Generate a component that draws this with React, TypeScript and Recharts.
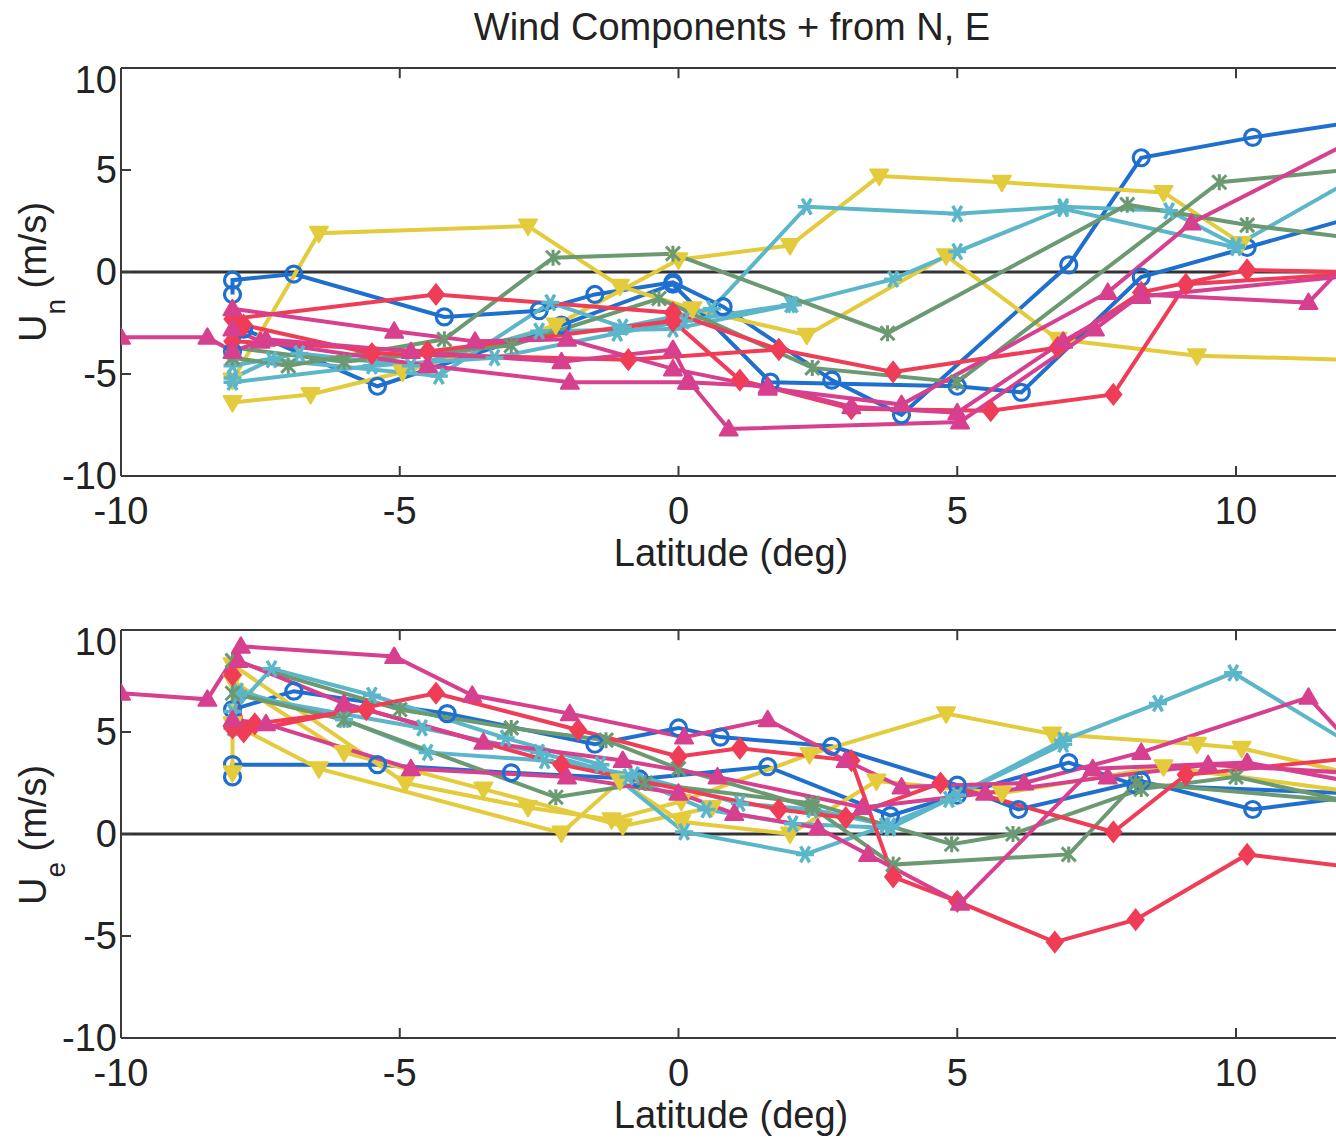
import React from 'react';
import { ComposedChart, Line, XAxis, YAxis, ReferenceLine } from 'recharts';

type Pair = [number, number];

// ---- axis / text content ----
const LAT_TICKS = [-10, -5, 0, 5, 10];
const VAL_TICKS = [-10, -5, 0, 5, 10];
const TITLE = 'Wind Components + from N, E';
const X_LABEL = 'Latitude (deg)';

// ---- Un (northward component) traces: [latitude, m/s] ----
const unBlue1: Pair[] = [[-8, -1.1], [-8, -0.4], [-6.9, -0.1], [-4.2, -2.2], [-2.5, -1.9], [-1.5, -1.1], [-0.1, -0.5], [0.8, -1.7], [2.75, -5.3], [4.0, -7.0], [7.0, 0.35], [8.3, 5.6], [10.3, 6.6], [12, 7.3]];
const unBlue2: Pair[] = [[-8, -3.9], [-7.8, -2.8], [-5.4, -5.6], [-2.1, -2.6], [-0.1, -0.6], [1.65, -5.4], [5.0, -5.6], [6.15, -5.9], [8.3, -0.25], [10.2, 1.2], [12, 2.6]];
const unYellow1: Pair[] = [[-8, -6.4], [-6.6, -6.0], [-4.95, -4.9], [-2.2, -2.6], [0.0, 0.6], [2.0, 1.3], [3.6, 4.7], [5.8, 4.4], [8.7, 3.9], [10.1, 1.4]];
const unYellow2: Pair[] = [[-8, -5.3], [-6.45, 1.9], [-2.7, 2.25], [-1.05, -0.7], [0.25, -1.8], [2.3, -3.1], [4.8, 0.8], [6.8, -3.3], [9.3, -4.1], [12, -4.3]];
const unTeal1: Pair[] = [[-8, -5.2], [-7.3, -4.3], [-4.3, -5.1], [-2.3, -1.5], [-1.0, -2.7], [0.6, -1.8], [2.3, 3.2], [5.0, 2.85], [6.9, 3.2], [8.8, 3.0], [10.0, 1.3], [12, 4.4]];
const unTeal2: Pair[] = [[-8, -4.6], [-6.8, -4.0], [-4.8, -4.6], [-2.5, -2.9], [-0.1, -2.8], [2.05, -1.6], [3.85, -0.35], [5.0, 1.0], [6.9, 3.1], [10.0, 1.2]];
const unTeal3: Pair[] = [[-8, -5.4], [-5.5, -4.6], [-3.3, -4.2], [-1.1, -3.0], [0.1, -2.4], [2.0, -1.6]];
const unGreen1: Pair[] = [[-8, -4.2], [-7, -4.6], [-4.2, -3.3], [-2.25, 0.7], [-0.1, 0.9], [3.75, -3.0], [8.05, 3.3], [10.2, 2.3], [12, 1.7]];
const unGreen2: Pair[] = [[-8, -3.7], [-6, -4.4], [-3, -3.6], [-0.35, -1.3], [2.4, -4.7], [5.0, -5.4], [9.7, 4.4], [12, 5.0]];
const unRed1: Pair[] = [[-8, -2.3], [-4.35, -1.1], [-0.1, -2.0], [1.8, -3.8], [3.85, -4.9], [6.8, -3.7], [8.3, -1.0], [10.2, 0.1], [12, 0.0]];
const unRed2: Pair[] = [[-8, -3.4], [-4.5, -3.9], [-0.1, -2.4], [1.1, -5.3], [3.1, -6.7], [5.6, -6.8], [7.8, -6.0], [9.1, -0.6], [12, -0.1]];
const unRed3: Pair[] = [[-7.8, -2.6], [-5.5, -4.0], [-0.9, -4.3], [1.8, -3.8]];
const unMag1: Pair[] = [[-10, -3.2], [-8.45, -3.2], [-8, -3.9], [-7.4, -3.3], [-4.8, -3.9], [-2.1, -4.4], [-0.1, -3.8], [0.2, -5.4], [0.9, -7.7], [5.05, -7.35], [7.47, -2.8], [8.3, -1.1], [11.3, -1.5], [12, 0.5]];
const unMag2: Pair[] = [[-8, -1.8], [-5.1, -2.9], [-3.65, -3.4], [-2.0, -3.3], [-0.1, -4.75], [1.6, -5.7], [4.0, -6.5], [7.7, -1.0], [9.2, 2.4], [12, 6.3]];
const unMag3: Pair[] = [[-8, -2.8], [-7.5, -3.4], [-4.5, -4.6], [-1.95, -5.4], [0.15, -5.4], [1.6, -5.6], [3.1, -6.6], [5.0, -6.9], [6.9, -3.4], [8.3, -1.2], [12, -0.2]];

// ---- Ue (eastward component) traces: [latitude, m/s] ----
const ueBlue1: Pair[] = [[-8, 2.8], [-8, 3.4], [-5.4, 3.4], [-3, 3.0], [-0.7, 2.7], [1.6, 3.3], [3.8, 0.9], [5, 1.9], [7, 3.5], [8.2, 2.4], [12, 2.0]];
const ueBlue2: Pair[] = [[-8, 6.1], [-6.9, 7.0], [-4.15, 5.9], [-1.5, 4.4], [0, 5.2], [0.75, 4.75], [2.75, 4.3], [5, 2.4], [6.1, 1.2], [8.3, 2.6], [10.3, 1.2], [12, 1.8]];
const ueYellow1: Pair[] = [[-8, 3.0], [-8, 8.3], [-4.9, 2.5], [-2.7, 1.3], [-1.2, 0.7], [0.05, 1.6], [2.35, 3.9], [4.8, 5.9], [6.7, 4.9], [9.3, 4.4], [10.1, 4.2], [12, 3.0]];
const ueYellow2: Pair[] = [[-8, 5.4], [-6.45, 3.2], [-2.1, 0.05], [-1.05, 2.6], [0.05, 0.6], [2.0, 0.0], [3.55, 2.6], [5.8, 2.0], [8.7, 3.3], [12, 2.1]];
const ueYellow3: Pair[] = [[-8, 7.5], [-6.0, 4.0], [-3.5, 2.2], [-1.0, 0.4], [0.6, 1.3]];
const ueTeal1: Pair[] = [[-8, 6.0], [-7.3, 8.1], [-5.5, 6.8], [-3.1, 4.7], [-1.4, 3.4], [0.1, 0.1], [2.27, -1.0], [3.7, 0.4], [4.85, 1.7], [6.9, 4.6], [8.6, 6.4], [9.95, 7.9], [12, 4.5]];
const ueTeal2: Pair[] = [[-8, 5.2], [-7.9, 6.8], [-4.6, 5.2], [-2.5, 4.0], [-0.9, 2.8], [0.5, 1.2], [2.05, 0.5], [3.8, 0.3], [5, 1.9], [6.9, 4.4]];
const ueTeal3: Pair[] = [[-7.9, 7.0], [-6.0, 5.6], [-4.5, 4.0], [-2.4, 3.6], [-0.8, 2.9], [1.1, 1.5], [2.4, 1.2], [3.8, 0.4]];
const ueGreen1: Pair[] = [[-8, 8.5], [-5, 6.1], [-3, 5.2], [-1.3, 4.6], [0, 3.2], [2.4, 1.3], [3.85, -1.5], [7.0, -1.0], [8.2, 2.5], [12, 1.6]];
const ueGreen2: Pair[] = [[-8, 6.9], [-6, 5.6], [-2.2, 1.8], [-0.6, 2.5], [2.4, 1.5], [4.9, -0.5], [6, 0], [8.3, 2.2], [10, 2.8], [12, 1.6]];
const ueRed1: Pair[] = [[-8, 7.8], [-7.8, 5.0], [-4.35, 6.9], [-1.8, 5.1], [0, 3.8], [1.1, 4.2], [3.1, 3.6], [3.85, -2.1], [5.0, -3.3], [6.75, -5.3], [8.2, -4.2], [10.2, -1.0], [12, -1.6]];
const ueRed2: Pair[] = [[-8, 5.2], [-7.6, 5.4], [-5.6, 6.1], [-2.1, 3.4], [1.8, 1.2], [3.0, 0.8], [4.7, 2.5], [7.8, 0.1], [9.1, 2.9], [12, 3.7]];
const ueMag1: Pair[] = [[-10, 6.9], [-8.45, 6.6], [-7.85, 9.2], [-5.1, 8.7], [-3.7, 6.8], [-1.95, 5.9], [0.1, 4.75], [1.6, 5.6], [3.0, 3.6], [4.0, 2.3], [6.2, 2.5], [8.3, 4.0], [11.3, 6.7], [12, 4.6]];
const ueMag2: Pair[] = [[-8, 5.6], [-7.4, 5.4], [-4.8, 3.2], [-2.0, 2.8], [0, 2.0], [1.0, 1.0], [2.5, 0.3], [3.4, -1.0], [5.05, -3.4], [7.43, 3.2], [10.2, 3.5], [12, 2.6]];
const ueMag3: Pair[] = [[-7.9, 8.5], [-6, 6.4], [-3.5, 4.5], [-1, 3.6], [0.7, 2.8], [3.3, 1.3], [5.5, 2.0], [7.7, 2.8], [9.5, 3.4], [12, 3.0]];

// ---- styles ----
const BLUE = '#1f6fcf';
const YELLOW = '#e3cb3b';
const TEAL = '#5cb6c9';
const GREEN = '#6b9a72';
const RED = '#ef3d57';
const MAGENTA = '#d73f8f';
const FONT = '"Liberation Sans", Arial, Helvetica, sans-serif';
const AXIS = '#3a3a3a';

type Trace = { id: string; pts: Pair[]; color: string; marker: string };

const unTraces: Trace[] = [
  { id: 'unBlue1', pts: unBlue1, color: BLUE, marker: 'circle' },
  { id: 'unBlue2', pts: unBlue2, color: BLUE, marker: 'circle' },
  { id: 'unYellow1', pts: unYellow1, color: YELLOW, marker: 'tdown' },
  { id: 'unYellow2', pts: unYellow2, color: YELLOW, marker: 'tdown' },
  { id: 'unTeal1', pts: unTeal1, color: TEAL, marker: 'star' },
  { id: 'unTeal2', pts: unTeal2, color: TEAL, marker: 'star' },
  { id: 'unTeal3', pts: unTeal3, color: TEAL, marker: 'star' },
  { id: 'unGreen1', pts: unGreen1, color: GREEN, marker: 'x' },
  { id: 'unGreen2', pts: unGreen2, color: GREEN, marker: 'x' },
  { id: 'unRed1', pts: unRed1, color: RED, marker: 'diamond' },
  { id: 'unRed2', pts: unRed2, color: RED, marker: 'diamond' },
  { id: 'unRed3', pts: unRed3, color: RED, marker: 'diamond' },
  { id: 'unMag1', pts: unMag1, color: MAGENTA, marker: 'tup' },
  { id: 'unMag2', pts: unMag2, color: MAGENTA, marker: 'tup' },
  { id: 'unMag3', pts: unMag3, color: MAGENTA, marker: 'tup' },
];

const ueTraces: Trace[] = [
  { id: 'ueBlue1', pts: ueBlue1, color: BLUE, marker: 'circle' },
  { id: 'ueBlue2', pts: ueBlue2, color: BLUE, marker: 'circle' },
  { id: 'ueYellow1', pts: ueYellow1, color: YELLOW, marker: 'tdown' },
  { id: 'ueYellow2', pts: ueYellow2, color: YELLOW, marker: 'tdown' },
  { id: 'ueYellow3', pts: ueYellow3, color: YELLOW, marker: 'tdown' },
  { id: 'ueTeal1', pts: ueTeal1, color: TEAL, marker: 'star' },
  { id: 'ueTeal2', pts: ueTeal2, color: TEAL, marker: 'star' },
  { id: 'ueTeal3', pts: ueTeal3, color: TEAL, marker: 'star' },
  { id: 'ueGreen1', pts: ueGreen1, color: GREEN, marker: 'x' },
  { id: 'ueGreen2', pts: ueGreen2, color: GREEN, marker: 'x' },
  { id: 'ueRed1', pts: ueRed1, color: RED, marker: 'diamond' },
  { id: 'ueRed2', pts: ueRed2, color: RED, marker: 'diamond' },
  { id: 'ueMag1', pts: ueMag1, color: MAGENTA, marker: 'tup' },
  { id: 'ueMag2', pts: ueMag2, color: MAGENTA, marker: 'tup' },
  { id: 'ueMag3', pts: ueMag3, color: MAGENTA, marker: 'tup' },
];

function renderMarker(kind: string, color: string, cx: number, cy: number, key: string) {
  if (cx == null || cy == null || isNaN(cx) || isNaN(cy)) return <g key={key} />;
  switch (kind) {
    case 'circle':
      return <circle key={key} cx={cx} cy={cy} r={8} fill="none" stroke={color} strokeWidth={3.2} />;
    case 'tdown':
      return <polygon key={key} points={`${cx - 9},${cy - 6.5} ${cx + 9},${cy - 6.5} ${cx},${cy + 9}`} fill={color} stroke={color} strokeWidth={2} strokeLinejoin="round" />;
    case 'tup':
      return <polygon key={key} points={`${cx - 9},${cy + 6.5} ${cx + 9},${cy + 6.5} ${cx},${cy - 9}`} fill={color} stroke={color} strokeWidth={2} strokeLinejoin="round" />;
    case 'diamond':
      return <polygon key={key} points={`${cx},${cy - 10} ${cx + 8},${cy} ${cx},${cy + 10} ${cx - 8},${cy}`} fill={color} stroke={color} strokeWidth={2} />;
    case 'star':
      return (
        <path key={key} d={`M${cx - 9},${cy} L${cx + 9},${cy} M${cx - 4.5},${cy - 8} L${cx + 4.5},${cy + 8} M${cx + 4.5},${cy - 8} L${cx - 4.5},${cy + 8}`} stroke={color} strokeWidth={3.5} fill="none" />
      );
    case 'x':
    default:
      return (
        <path key={key} d={`M${cx - 7},${cy - 7} L${cx + 7},${cy + 7} M${cx + 7},${cy - 7} L${cx - 7},${cy + 7} M${cx},${cy - 8} L${cx},${cy + 8}`} stroke={color} strokeWidth={3} fill="none" />
      );
  }
}

const tickStyle = { fontSize: 38, fill: '#222', fontFamily: FONT };

function Panel({ traces, top }: { traces: Trace[]; top: number }) {
  return (
    <div style={{ position: 'absolute', left: 0, top, width: 1400, height: 518 }}>
      <ComposedChart width={1400} height={518} margin={{ top: 10, right: 52.5, bottom: 0, left: 61 }}>
        <XAxis
          dataKey="lat"
          type="number"
          domain={[-10, 12]}
          ticks={LAT_TICKS}
          height={100}
          tickSize={-10}
          tickMargin={31}
          tick={tickStyle}
          axisLine={{ stroke: AXIS, strokeWidth: 2 }}
          tickLine={{ stroke: AXIS, strokeWidth: 2 }}
          allowDataOverflow
        />
        <YAxis
          type="number"
          domain={[-10, 10]}
          ticks={VAL_TICKS}
          width={60}
          tickSize={-10}
          tickMargin={14}
          tick={tickStyle}
          axisLine={{ stroke: AXIS, strokeWidth: 2 }}
          tickLine={{ stroke: AXIS, strokeWidth: 2 }}
          allowDataOverflow
        />
        <ReferenceLine y={10} stroke={AXIS} strokeWidth={2} />
        {LAT_TICKS.map((t) => (
          <ReferenceLine
            key={`tt${t}`}
            segment={[{ x: t, y: 10 }, { x: t, y: 9.5 }]}
            stroke={AXIS}
            strokeWidth={2}
          />
        ))}
        <ReferenceLine y={0} stroke="#333" strokeWidth={3} />
        {traces.map((t) => (
          <Line
            key={t.id}
            data={t.pts.map(([lat, v]) => ({ lat, v }))}
            dataKey="v"
            type="linear"
            stroke={t.color}
            strokeWidth={4}
            dot={(p: any) => renderMarker(t.marker, t.color, p.cx, p.cy, `${t.id}-${p.index}`)}
            activeDot={false}
            isAnimationActive={false}
          />
        ))}
      </ComposedChart>
    </div>
  );
}

function YLabel({ x, y, sub }: { x: number; y: number; sub: string }) {
  return (
    <text transform={`translate(${x},${y}) rotate(-90)`} textAnchor="middle" fontFamily={FONT} fontSize={38} fill="#222">
      <tspan>U</tspan>
      <tspan dy={19} fontSize={28}>{sub}</tspan>
      <tspan dy={-19}> (m/s)</tspan>
    </text>
  );
}

export default function App() {
  return (
    <div style={{ position: 'absolute', left: 0, top: 0, width: 1336, height: 1139, overflow: 'hidden', background: '#fff' }}>
      <Panel traces={unTraces} top={58} />
      <Panel traces={ueTraces} top={620} />
      <svg width={1336} height={1139} style={{ position: 'absolute', left: 0, top: 0, pointerEvents: 'none' }}>
        <text x={732} y={40} textAnchor="middle" fontFamily={FONT} fontSize={38} fill="#222">{TITLE}</text>
        <text x={731} y={566} textAnchor="middle" fontFamily={FONT} fontSize={38} fill="#222">{X_LABEL}</text>
        <text x={731} y={1128} textAnchor="middle" fontFamily={FONT} fontSize={38} fill="#222">{X_LABEL}</text>
        <YLabel x={46} y={272} sub="n" />
        <YLabel x={46} y={835} sub="e" />
      </svg>
    </div>
  );
}
